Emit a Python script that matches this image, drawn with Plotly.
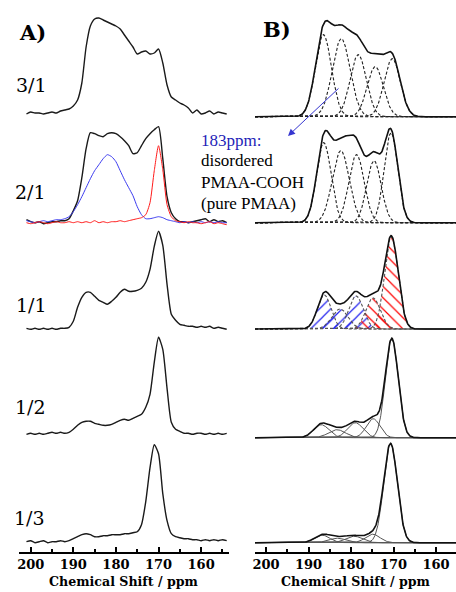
import numpy as np
import plotly.graph_objects as go

W, H = 456, 592

# ---------------- data ----------------
ratios = ["3/1", "2/1", "1/1", "1/2", "1/3"]

# Panel A: measured spectra, intensity every 1 ppm from 201 to 154 ppm
ppm_a = list(range(201, 153, -1))
a_31 = [1, 3, 2, 2, 1, 2, 3, 2, 4, 5, 6, 9,
        15, 32, 68, 89, 96, 97, 95, 93, 91, 89,
        86, 80, 74, 68, 61, 63, 64, 61, 62, 66,
        52, 30, 18, 15, 12, 10, 7, 2, 5, 1,
        2, 4, 1, 3, 2, 1]
a_21 = [3, 1, 0, 1, -1, 0, 1, 1, 2, 2, 4, 12,
        22, 45, 74, 90, 89, 87, 86, 89, 90, 89,
        86, 82, 77, 69, 70, 77, 84, 89, 93, 96,
        64, 26, 10, 4, 1, 1, 0, 1, 2, 3,
        4, 1, 3, 1, 2, 0]
a_21_blue = [2, 1, 0, 1, 2, 1, 2, 3, 3, 4, 6, 11,
             18, 26, 35, 44, 52, 58, 64, 68, 66, 61,
             52, 43, 35, 27, 16, 8, 4, 4, 5, 6,
             5, 3, 2, 1, 0, 1, 0, 1, 0, 1,
             0, 1, 0, 1, 0, 0]
a_21_red = [0, -1, 0, 1, 0, -1, 0, 1, 0, 0, 1, 0,
            1, 0, 1, 0, 2, 0, 1, 0, 1, 1,
            2, 1, 2, 3, 4, 5, 8, 20, 52, 77,
            53, 18, 6, 2, 1, 0, 1, 0, 0, -1,
            0, 1, -1, 0, -1, -2]
a_11 = [1, 0, 1, 0, 1, 0, 1, 0, 1, 1, 2, 8,
        22, 32, 37, 37, 33, 29, 27, 25, 28, 32,
        37, 40, 38, 38, 39, 41, 47, 60, 83, 98,
        84, 45, 15, 9, 5, 4, 3, 3, 2, 3,
        2, 3, 1, 2, 1, 0]
a_12 = [0, 1, 0, 1, 0, 1, 2, 1, 2, 1, 2, 5,
        9, 12, 13, 13, 11, 10, 9, 9, 10, 12,
        14, 15, 14, 16, 18, 20, 27, 40, 72, 97,
        85, 46, 12, 5, 3, 1, 1, 0, 1, 1,
        0, 1, 0, 1, 0, 1]
a_13 = [0, 1, -1, 0, 1, -1, 0, 0, 1, 0, 1, 3,
        5, 7, 8, 7, 5, 5, 6, 6, 7, 7,
        7, 8, 8, 9, 10, 17, 40, 74, 97, 88,
        48, 21, 8, 5, 4, 3, 3, 2, 2, 1,
        2, 1, 2, 1, 2, 1]
spectra_a = [a_31, a_21, a_11, a_12, a_13]

# Panel B: fitted Gaussian components (centre ppm, height, sigma ppm)
b31_center = [186.5, 182.3, 178.3, 174.3, 170.3]
b31_height = [82, 78, 62, 50, 58]
b31_sigma = [1.9, 2.1, 1.9, 1.9, 1.9]
b21_center = [186.4, 182.4, 178.7, 174.6, 170.6]
b21_height = [80, 72, 68, 62, 90]
b21_sigma = [1.7, 2.0, 1.8, 1.7, 1.6]
b11_center = [186.3, 182.6, 178.8, 174.8, 170.5]
b11_height = [34, 20, 33, 31, 92]
b11_sigma = [1.6, 1.9, 1.7, 1.7, 1.6]
b12_center = [187.0, 183.3, 179.0, 174.8, 170.4]
b12_height = [13, 8, 15, 19, 99]
b12_sigma = [1.8, 2.0, 1.8, 1.6, 1.5]
b13_center = [186.8, 183.2, 179.3, 174.9, 170.7]
b13_height = [7.5, 4.5, 6.5, 8.5, 99]
b13_sigma = [1.8, 2.0, 1.9, 1.7, 1.6]
fits_b = [(b31_center, b31_height, b31_sigma),
          (b21_center, b21_height, b21_sigma),
          (b11_center, b11_height, b11_sigma),
          (b12_center, b12_height, b12_sigma),
          (b13_center, b13_height, b13_sigma)]
hatch_11 = ["blue", "blue", "blue", "red", "red"]

x_ticks = [200, 190, 180, 170, 160]
x_minor = [195, 185, 175, 165, 155]

# ---------------- layout constants ----------------
off_a = [437, 329.3, 222.7, 117.7, 10.3]
off_b = [435.3, 329.3, 223, 114.3, 9.3]
AX_Y = 552
range_a = [202.68, 153.53]
range_b = [202.59, 155.3]


def px(xp):
    return xp / W


def py(yp):
    return 1 - yp / H


fig = go.Figure()

# Panel A spectra
for i, (spec, off) in enumerate(zip(spectra_a, off_a)):
    y = [off + v for v in spec]
    fig.add_trace(go.Scatter(x=ppm_a, y=y, mode="lines",
                             line=dict(color="#1a1a1a", width=1.4, shape="spline", smoothing=0.6),
                             xaxis="x", yaxis="y", hoverinfo="skip"))
    if i == 1:
        fig.add_trace(go.Scatter(x=ppm_a, y=[off + v for v in a_21_blue], mode="lines",
                                 line=dict(color="#3b3bf0", width=1, shape="spline", smoothing=0.6),
                                 xaxis="x", yaxis="y", hoverinfo="skip"))
        fig.add_trace(go.Scatter(x=ppm_a, y=[off + v for v in a_21_red], mode="lines",
                                 line=dict(color="#ff1a1a", width=1, shape="spline", smoothing=0.6),
                                 xaxis="x", yaxis="y", hoverinfo="skip"))

# Panel B fits
grid = np.arange(range_b[0], range_b[1] - 0.05, -0.1)
for i, ((cs, hs, ss), off) in enumerate(zip(fits_b, off_b)):
    comps = [h * np.exp(-((grid - c) ** 2) / (2 * s ** 2)) for c, h, s in zip(cs, hs, ss)]
    if i == 2:
        for comp, (c, s), col in zip(comps, zip(cs, ss), hatch_11):
            m = np.abs(grid - c) < 4 * s
            gx = grid[m]
            gy = comp[m] + off
            fx = np.concatenate([gx, gx[::-1]])
            fy = np.concatenate([gy, np.full(len(gx), off)])
            pat = dict(shape="/" if col == "blue" else "\\",
                       fgcolor="#2222ee" if col == "blue" else "#ff0000",
                       bgcolor="rgba(255,255,255,0)", fgopacity=1,
                       size=8, solidity=0.15)
            fig.add_trace(go.Scatter(x=fx, y=fy, mode="lines", fill="toself",
                                     fillcolor="rgba(255,255,255,0)",
                                     fillpattern=pat, line=dict(width=0, color="rgba(0,0,0,0)"),
                                     xaxis="x2", yaxis="y2", hoverinfo="skip"))
    for comp in comps:
        if i <= 2:
            ln = dict(color="#222" if i < 2 else "#555", width=1.1, dash="3px,2px")
        else:
            ln = dict(color="#555", width=1)
        fig.add_trace(go.Scatter(x=grid, y=comp + off, mode="lines", line=ln,
                                 xaxis="x2", yaxis="y2", hoverinfo="skip"))
    env = np.sum(comps, axis=0) + off
    fig.add_trace(go.Scatter(x=grid, y=env, mode="lines",
                             line=dict(color="#111", width=1.6),
                             xaxis="x2", yaxis="y2", hoverinfo="skip"))

tickfont = dict(family="DejaVu Serif", size=13, color="black", weight="bold")
common_x = dict(showline=True, linecolor="black", linewidth=1.5, ticks="inside",
                ticklen=5, tickwidth=1.5, tickcolor="black", tickvals=x_ticks,
                minor=dict(tickvals=x_minor, ticks="inside", ticklen=3, tickwidth=1.5, tickcolor="black"),
                tickfont=tickfont, showgrid=False, zeroline=False, automargin=False, fixedrange=True)
ydom = [1 - AX_Y / H, 1]
common_y = dict(range=[0, AX_Y], domain=ydom, visible=False, fixedrange=True)

annotations = []


def label(x, y, text, font, xanchor="center"):
    annotations.append(dict(x=px(x), y=py(y), text=text, showarrow=False, xref="paper", yref="paper",
                            xanchor=xanchor, yanchor="middle", font=font))


# panel labels
label(32, 32, "A)", dict(family="DejaVu Serif", size=21, color="black", weight="bold"))
label(277, 29, "B)", dict(family="DejaVu Serif", size=21, color="black", weight="bold"))
label_y = [85, 192, 305, 407, 518]
label_x = [31, 30, 31, 30, 29]
for lab, lx, ly in zip(ratios, label_x, label_y):
    label(lx, ly, lab, dict(family="DejaVu Serif", size=19, color="black"))
# axis titles
for cx in [(19.3 + 228.7) / 2, (255 + 456) / 2]:
    label(cx, 581, "Chemical Shift / ppm", dict(family="DejaVu Serif", size=12.6, color="black", weight="bold"))
# comment text
note_lines = [("183ppm:", "#1f1fb8"), ("disordered", "black"), ("PMAA-COOH", "black"), ("(pure PMAA)", "black")]
note_y = [140, 161, 182, 203]
for (t, c), ny in zip(note_lines, note_y):
    label(199, ny, t, dict(family="Liberation Serif", size=17, color=c), xanchor="left")
# arrow
annotations.append(dict(x=px(288), y=py(136), xref="paper", yref="paper", text="", showarrow=True,
                        ax=52, ay=-49, arrowhead=2, arrowsize=1.4, arrowwidth=1, arrowcolor="#3535d0"))

fig.update_layout(
    width=W, height=H, margin=dict(l=0, r=0, t=0, b=0),
    paper_bgcolor="white", plot_bgcolor="rgba(0,0,0,0)", showlegend=False,
    xaxis=dict(domain=[19.3 / W, 228.7 / W], range=range_a, anchor="y", **common_x),
    xaxis2=dict(domain=[255 / W, 1.0], range=range_b, anchor="y2", **common_x),
    yaxis=dict(anchor="x", **common_y),
    yaxis2=dict(anchor="x2", **common_y),
    annotations=annotations,
)

fig.write_html("out.html", config={"displayModeBar": False},
               post_script="document.body.style.margin='0px';")
